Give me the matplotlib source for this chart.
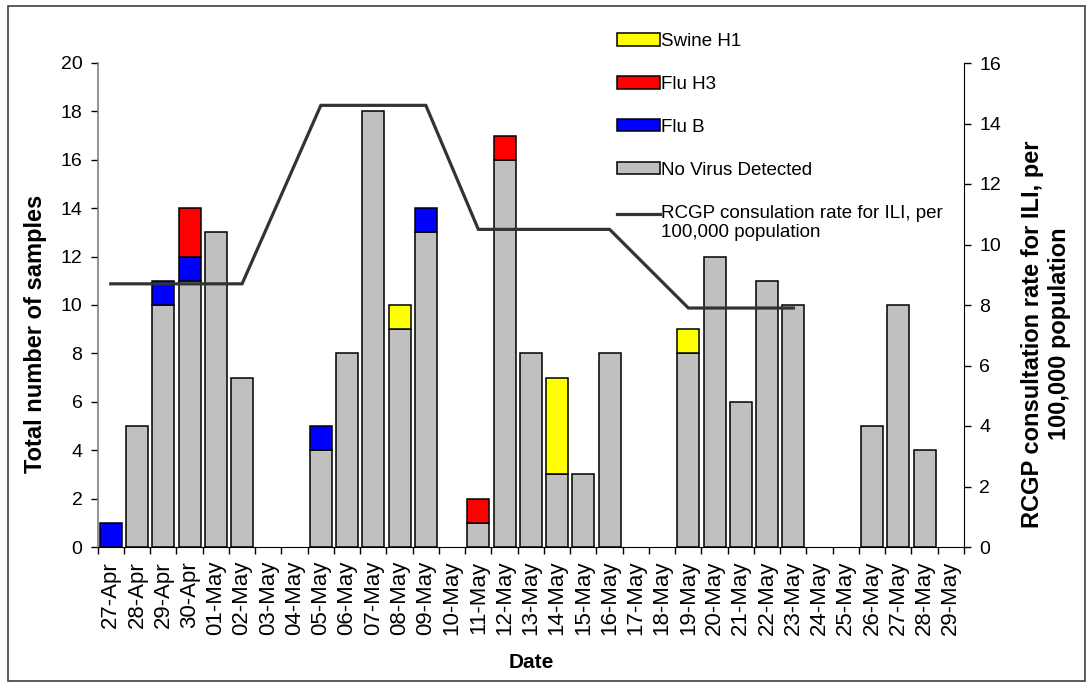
import numpy as np
import matplotlib
matplotlib.use("Agg")
import matplotlib.pyplot as plt
from matplotlib.patches import Rectangle
from matplotlib.legend_handler import HandlerLine2D

plt.rcParams['font.family'] = ['Liberation Sans', 'DejaVu Sans']

dates = ["27-Apr", "28-Apr", "29-Apr", "30-Apr", "01-May", "02-May", "03-May", "04-May",
         "05-May", "06-May", "07-May", "08-May", "09-May", "10-May", "11-May", "12-May",
         "13-May", "14-May", "15-May", "16-May", "17-May", "18-May", "19-May", "20-May",
         "21-May", "22-May", "23-May", "24-May", "25-May", "26-May", "27-May", "28-May",
         "29-May"]
no_virus = [0, 5, 10, 11, 13, 7, 0, 0, 4, 8, 18, 9, 13, 0, 1, 16, 8, 3, 3, 8, 0, 0,
            8, 12, 6, 11, 10, 0, 0, 5, 10, 4, 0]
flu_b = [1, 0, 1, 1, 0, 0, 0, 0, 1, 0, 0, 0, 1, 0, 0, 0, 0, 0, 0, 0, 0, 0,
         0, 0, 0, 0, 0, 0, 0, 0, 0, 0, 0]
flu_h3 = [0, 0, 0, 2, 0, 0, 0, 0, 0, 0, 0, 0, 0, 0, 1, 1, 0, 0, 0, 0, 0, 0,
          0, 0, 0, 0, 0, 0, 0, 0, 0, 0, 0]
swine_h1 = [0, 0, 0, 0, 0, 0, 0, 0, 0, 0, 0, 1, 0, 0, 0, 0, 0, 4, 0, 0, 0, 0,
            1, 0, 0, 0, 0, 0, 0, 0, 0, 0, 0]
rcgp_rate = [8.7, 8.7, 8.7, 8.7, 8.7, 8.7, None, None, 14.6, 14.6, 14.6, 14.6, 14.6, None,
             10.5, 10.5, 10.5, 10.5, 10.5, 10.5, None, None, 7.9, 7.9, 7.9, 7.9, 7.9,
             None, None, None, None, None, None]


class RaisedLineHandler(HandlerLine2D):
    def create_artists(self, legend, orig_handle, xdescent, ydescent, width, height,
                       fontsize, trans):
        arts = super().create_artists(legend, orig_handle, xdescent, ydescent, width,
                                      height, fontsize, trans)
        for a in arts:
            a.set_ydata(np.asarray(a.get_ydata()) + 0.45 * fontsize)
        return arts


W, H = 1091, 682
fig = plt.figure(figsize=(W / 100, H / 100), dpi=100)
ax = fig.add_axes([97.7 / W, 1 - 547 / H, (964 - 97.7) / W, (547 - 63) / H])
ax2 = ax.twinx()

x = np.arange(len(dates))
series = [("No Virus Detected", no_virus, "#C0C0C0"),
          ("Flu B", flu_b, "#0000FF"),
          ("Flu H3", flu_h3, "#FF0000"),
          ("Swine H1", swine_h1, "#FFFF00")]
bottom = np.zeros(len(dates))
handles = {}
for name, vals, col in series:
    v = np.array(vals, dtype=float)
    m = v > 0
    b = ax.bar(x[m], v[m], bottom=bottom[m], width=0.84, color=col,
               edgecolor="black", linewidth=1.1, label=name, zorder=2)
    handles[name] = b
    bottom += v

r = np.array([np.nan if v is None else v for v in rcgp_rate])
mr = ~np.isnan(r)
ln, = ax2.plot(x[mr], r[mr], color="#333333", linewidth=2.3, solid_joinstyle="miter",
               label="RCGP consulation rate for ILI, per\n100,000 population", zorder=3)

ax.set_xlim(-0.5, len(dates) - 0.5)
ax.set_ylim(0, 20)
ax2.set_ylim(0, 16)
ax.set_yticks(np.arange(0, 21, 2))
ax2.set_yticks(np.arange(0, 17, 2))
ax.set_xticks(x)
ax.set_xticklabels(dates, rotation=90, fontsize=16)
ax.set_xticks(np.arange(-0.5, len(dates), 1), minor=True)
ax.tick_params(axis="x", which="major", length=0, pad=10)
ax.tick_params(axis="x", which="minor", length=5, width=1.0, color="black")
ax.tick_params(axis="y", labelsize=14, length=5, width=1.0, pad=6)
ax2.tick_params(axis="y", labelsize=14, length=5, width=1.0, pad=6)

for a in (ax, ax2):
    a.spines["top"].set_visible(False)
    a.set_facecolor("none")
ax.spines["right"].set_visible(False)
ax2.spines["left"].set_visible(False)
ax.spines["left"].set_color("#808080")
ax.spines["left"].set_linewidth(1.2)
ax2.spines["right"].set_color("black")
ax2.spines["bottom"].set_visible(False)
ax.spines["bottom"].set_color("black")

pw = 964 - 97.7
ph = 547 - 63
ax.set_xlabel("Date", fontsize=15, fontweight="bold")
ax.xaxis.set_label_coords(0.5, -(653 - 547) / ph)
ax.set_ylabel("Total number of samples", fontsize=17, fontweight="bold")
ax.yaxis.set_label_coords(-(97.7 - 47) / pw, 0.44)
ax2.set_ylabel("RCGP consultation rate for ILI, per\n100,000 population", fontsize=17,
               fontweight="bold", rotation=90, linespacing=1.2)
ax2.yaxis.set_label_coords(1 + (1021 - 964) / pw, 0.44)

leg_handles = [handles["Swine H1"], handles["Flu H3"], handles["Flu B"],
               handles["No Virus Detected"], ln]
leg_labels = ["Swine H1", "Flu H3", "Flu B", "No Virus Detected",
              "RCGP consulation rate for ILI, per\n100,000 population"]
fig.legend(leg_handles, leg_labels, loc="upper left",
           bbox_to_anchor=(617 / W, 1 - 33 / H), bbox_transform=fig.transFigure,
           frameon=False, fontsize=13.5, handlelength=2.3, handleheight=0.65,
           handletextpad=0.05, labelspacing=1.38, borderpad=0, borderaxespad=0,
           handler_map={ln: RaisedLineHandler()})

fig.patches.append(Rectangle((8 / W, 1 - 681 / H), (1085 - 8) / W, (681 - 6) / H,
                             transform=fig.transFigure, fill=False,
                             edgecolor="#404040", linewidth=1.2))

fig.savefig("out.png", dpi=100)
